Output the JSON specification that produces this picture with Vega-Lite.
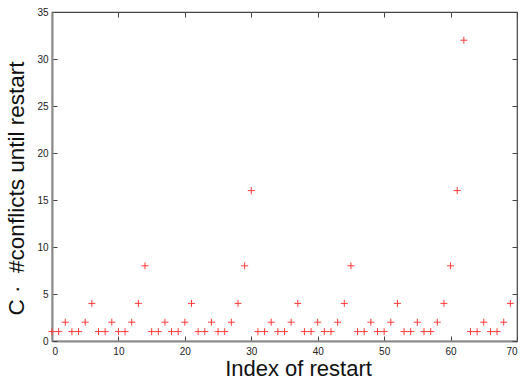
{
  "$schema": "https://vega.github.io/schema/vega-lite/v6.json",
  "autosize": "none",
  "width": 465,
  "height": 329,
  "padding": {"left": 52, "top": 12, "right": 10, "bottom": 39},
  "background": "white",
  "config": {
    "font": "Liberation Sans",
    "view": {"stroke": "#444", "strokeWidth": 1.2},
    "axis": {"grid": false, "domain": false, "labelFont": "Liberation Sans", "labelFontSize": 10, "labelColor": "#222", "tickColor": "#444", "tickSize": -5, "titleFont": "Liberation Sans", "titleFontWeight": "normal", "titleFontSize": 22, "titleColor": "#111"}
  },
  "data": {"values": [
    {"i":0,"c":1},{"i":1,"c":1},{"i":2,"c":2},{"i":3,"c":1},{"i":4,"c":1},{"i":5,"c":2},{"i":6,"c":4},{"i":7,"c":1},{"i":8,"c":1},{"i":9,"c":2},
    {"i":10,"c":1},{"i":11,"c":1},{"i":12,"c":2},{"i":13,"c":4},{"i":14,"c":8},{"i":15,"c":1},{"i":16,"c":1},{"i":17,"c":2},{"i":18,"c":1},{"i":19,"c":1},
    {"i":20,"c":2},{"i":21,"c":4},{"i":22,"c":1},{"i":23,"c":1},{"i":24,"c":2},{"i":25,"c":1},{"i":26,"c":1},{"i":27,"c":2},{"i":28,"c":4},{"i":29,"c":8},
    {"i":30,"c":16},{"i":31,"c":1},{"i":32,"c":1},{"i":33,"c":2},{"i":34,"c":1},{"i":35,"c":1},{"i":36,"c":2},{"i":37,"c":4},{"i":38,"c":1},{"i":39,"c":1},
    {"i":40,"c":2},{"i":41,"c":1},{"i":42,"c":1},{"i":43,"c":2},{"i":44,"c":4},{"i":45,"c":8},{"i":46,"c":1},{"i":47,"c":1},{"i":48,"c":2},{"i":49,"c":1},
    {"i":50,"c":1},{"i":51,"c":2},{"i":52,"c":4},{"i":53,"c":1},{"i":54,"c":1},{"i":55,"c":2},{"i":56,"c":1},{"i":57,"c":1},{"i":58,"c":2},{"i":59,"c":4},
    {"i":60,"c":8},{"i":61,"c":16},{"i":62,"c":32},{"i":63,"c":1},{"i":64,"c":1},{"i":65,"c":2},{"i":66,"c":1},{"i":67,"c":1},{"i":68,"c":2},{"i":69,"c":4}
  ]},
  "layer": [
    {
      "mark": {"type": "point", "shape": "M-1,0L1,0M0,-1L0,1", "size": 49, "filled": false, "stroke": "#ff3b3b", "strokeWidth": 1, "opacity": 1},
      "encoding": {
        "x": {"field": "i", "type": "quantitative", "scale": {"domain": [0, 70], "nice": false, "zero": false}, "axis": {"orient": "bottom", "values": [0,10,20,30,40,50,60,70], "title": "Index of restart", "labelPadding": 10, "titlePadding": 2, "titleX": 246, "domain": true, "domainColor": "#8a8a8a", "domainWidth": 2}},
        "y": {"field": "c", "type": "quantitative", "scale": {"domain": [0, 35], "nice": false}, "axis": {"orient": "left", "values": [0,5,10,15,20,25,30,35], "title": "C\u00a0· \u00a0#conflicts until restart", "titleFontSize": 22.5, "titleY": 176, "labelPadding": 9, "titlePadding": 8, "domain": true, "domainColor": "#8a8a8a", "domainWidth": 2}}
      }
    },
    {
      "mark": {"type": "point", "opacity": 0},
      "encoding": {
        "x": {"field": "i", "type": "quantitative", "axis": {"orient": "top", "values": [0,10,20,30,40,50,60,70], "labels": false, "title": null}},
        "y": {"field": "c", "type": "quantitative", "axis": {"orient": "right", "values": [0,5,10,15,20,25,30,35], "labels": false, "title": null}}
      }
    }
  ],
  "resolve": {"axis": {"x": "independent", "y": "independent"}}
}
